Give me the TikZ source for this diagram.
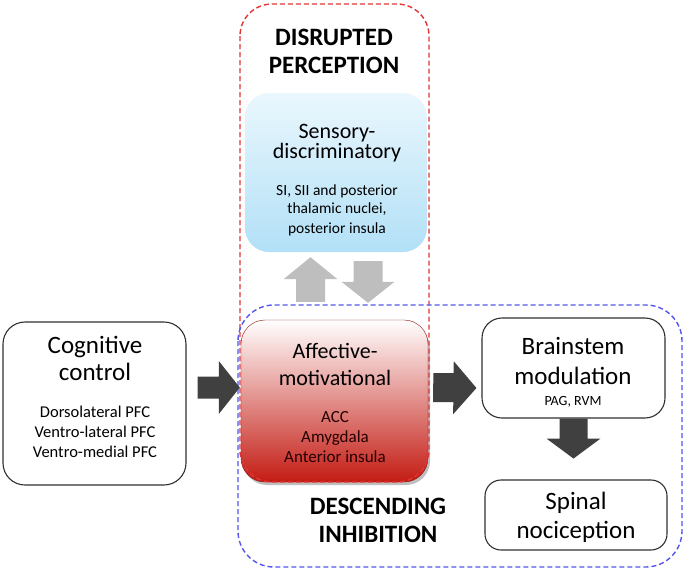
\documentclass[tikz,border=0pt]{standalone}
\usepackage{fontspec}
\setmainfont{Carlito}
\usetikzlibrary{calc}
\definecolor{darkarrow}{HTML}{404040}
\definecolor{grayarrow}{HTML}{BEBEBE}
\definecolor{reddash}{HTML}{E03535}
\definecolor{bluedash}{HTML}{5555EE}
\definecolor{skytop}{HTML}{EAF7FD}
\definecolor{skybot}{HTML}{B2E0F7}
\definecolor{redbot}{HTML}{C41C14}
\definecolor{boxline}{HTML}{303030}
\newcommand{\blockarrow}[6]{%
  \fill[#1] ($(#2)!#4!90:(#3)$) --
    ($($(#3)!#6!(#2)$)!#4!90:(#3)$) --
    ($($(#3)!#6!(#2)$)!#5!90:(#3)$) --
    (#3) --
    ($($(#3)!#6!(#2)$)!#5!-90:(#3)$) --
    ($($(#3)!#6!(#2)$)!#4!-90:(#3)$) --
    ($(#2)!#4!-90:(#3)$) -- cycle;}
\tikzset{
  x=1pt, y=-1pt,
  whitebox/.style={draw=boxline, line width=1.1pt, fill=white, rounded corners=22pt, inner sep=0pt},
  dashframe/.style={dashed, dash pattern=on 5pt off 3pt, line width=1.4pt, rounded corners=32pt},
  bigtxt/.style={font=\fontsize{25}{27}\selectfont, anchor=base, inner sep=0pt},
  midtxt/.style={font=\fontsize{22}{24}\selectfont, anchor=base, inner sep=0pt},
  smalltxt/.style={font=\fontsize{15.5}{19}\selectfont, anchor=base, inner sep=0pt},
  titletxt/.style={font=\bfseries\fontsize{25}{27}\selectfont, anchor=base, inner sep=0pt},
}
\begin{document}
\begin{tikzpicture}
\useasboundingbox (0,0) rectangle (688,576);
% boxes
\node[whitebox, minimum width=183pt, minimum height=163pt] (cog) at (94.5,403.5) {};
\node[draw=none, rounded corners=24pt, top color=skytop, bottom color=skybot, minimum width=182pt, minimum height=159pt, inner sep=0pt] (sens) at (336,172.5) {};
\fill[black!25, rounded corners=24pt] (243,324) rectangle (430,485);
\node[draw=redbot!70!black, line width=0.4pt, rounded corners=24pt, top color=white, bottom color=redbot, minimum width=187pt, minimum height=162pt, inner sep=0pt] (aff) at (334.5,401) {};
\node[whitebox, rounded corners=20pt, minimum width=183pt, minimum height=100pt] (brain) at (573.5,368) {};
\node[whitebox, rounded corners=16pt, minimum width=182pt, minimum height=70pt] (spin) at (576,515) {};
% dashed frames
\draw[dashframe, reddash] (240,4) rectangle (429,482);
\draw[dashframe, bluedash, rounded corners=36pt] (238,305) rectangle (682,567);
% connector coordinates
\coordinate (a1s) at ($(cog.east)+(11,-16)$);
\coordinate (a1e) at ($(aff.west)+(-1,-13.5)$);
\coordinate (a2s) at ($(aff.east)+(5,-13.5)$);
\coordinate (a2e) at ($(brain.west)+(-5,20)$);
\coordinate (a3s) at (brain.south);
\coordinate (a3e) at ($(brain.south)+(0,40)$);
\coordinate (g1s) at ($(aff.north)+(-24,-18)$);
\coordinate (g1e) at ($(sens.south)+(-25.5,5)$);
\coordinate (g2s) at ($(sens.south)+(32,9)$);
\coordinate (g2e) at ($(aff.north)+(33.5,-17)$);
\blockarrow{darkarrow}{a1s}{a1e}{11pt}{26.5pt}{21pt}
\blockarrow{darkarrow}{a2s}{a2e}{14.5pt}{26.5pt}{23pt}
\blockarrow{darkarrow}{a3s}{a3e}{14pt}{27pt}{20pt}
\blockarrow{grayarrow}{g1s}{g1e}{14.5pt}{27pt}{22pt}
\blockarrow{grayarrow}{g2s}{g2e}{14.5pt}{26.5pt}{21pt}
% titles
\node[titletxt] (t1) at (334,45) {DISRUPTED};
\node[titletxt] (t2) at (334,73) {PERCEPTION};
\node[titletxt] (t3) at (378,514) {DESCENDING};
\node[titletxt] (t4) at (378,542) {INHIBITION};
% cognitive
\node[bigtxt] (c1) at (95,353) {Cognitive};
\node[bigtxt] (c2) at (95,380) {control};
\node[smalltxt, font=\fontsize{16.5}{19}\selectfont] (c3) at (95,417) {Dorsolateral PFC};
\node[smalltxt, font=\fontsize{16.5}{19}\selectfont] (c4) at (95,437) {Ventro-lateral PFC};
\node[smalltxt, font=\fontsize{16.5}{19}\selectfont] (c5) at (95,457) {Ventro-medial PFC};
% sensory
\node[midtxt] (s1) at (337,138) {Sensory-};
\node[midtxt] (s2) at (337,158) {discriminatory};
\node[smalltxt] (s3) at (337,195) {SI, SII and posterior};
\node[smalltxt] (s4) at (337,213) {thalamic nuclei,};
\node[smalltxt] (s5) at (337,233) {posterior insula};
% affective
\node[midtxt] (f1) at (335,358) {Affective-};
\node[midtxt] (f2) at (335,385) {motivational};
\node[smalltxt, font=\fontsize{17}{19}\selectfont, text=black!85!red] (f3) at (335,422) {ACC};
\node[smalltxt, font=\fontsize{17}{19}\selectfont, text=black!85!red] (f4) at (335,442) {Amygdala};
\node[smalltxt, font=\fontsize{17}{19}\selectfont, text=black!85!red] (f5) at (335,462) {Anterior insula};
% brainstem
\node[bigtxt] (b1) at (573,354) {Brainstem};
\node[bigtxt] (b2) at (573,384) {modulation};
\node[smalltxt, font=\fontsize{14}{17}\selectfont] (b3) at (573,405) {PAG, RVM};
% spinal
\node[bigtxt] (p1) at (576,509) {Spinal};
\node[bigtxt] (p2) at (576,538) {nociception};
\end{tikzpicture}
\end{document}
